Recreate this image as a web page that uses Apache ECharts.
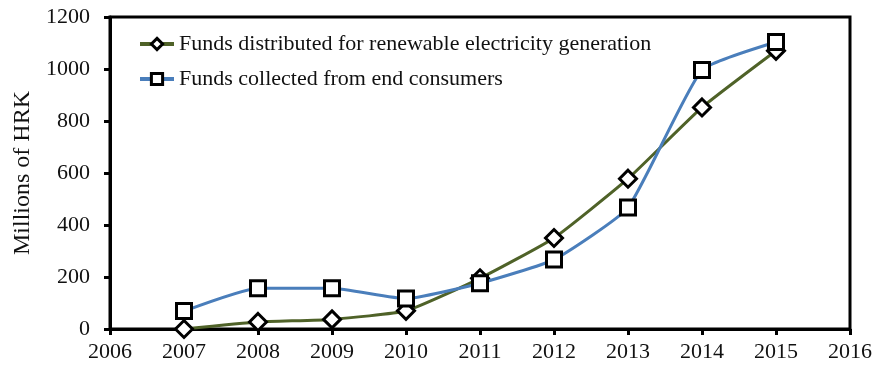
<!DOCTYPE html>
<html>
<head>
<meta charset="utf-8">
<script src="https://cdn.jsdelivr.net/npm/echarts@6/dist/echarts.min.js"></script>
<style>html,body{margin:0;padding:0;background:#fff}#c{width:876px;height:369px}</style>
</head>
<body>
<div id="c"></div>
<script>
const years = [2007, 2008, 2009, 2010, 2011, 2012, 2013, 2014, 2015];
const distributed = [0, 27, 37, 70, 195, 350, 578, 852, 1070];
const collected = [69, 157, 157, 117, 176, 267, 467, 996, 1104];
const seriesNames = ['Funds distributed for renewable electricity generation', 'Funds collected from end consumers'];
const yAxisName = 'Millions of HRK';

const font = 'Liberation Serif, Times New Roman, serif';
const chart = echarts.init(document.getElementById('c'));
chart.setOption({
  animation: false,
  textStyle: { fontFamily: font, color: '#000' },
  grid: { left: 110, right: 26, top: 17, bottom: 40, show: true, borderColor: '#000', borderWidth: 3,
          containLabel: false, outerBoundsMode: 'none' },
  legend: {
    orient: 'vertical', left: 133, top: 28, itemGap: 13, itemWidth: 34, itemHeight: 14,
    textStyle: { fontFamily: font, fontSize: 22, color: '#111' },
    lineStyle: { width: 4 },
    itemStyle: { borderWidth: 3 },
    data: seriesNames
  },
  xAxis: {
    type: 'value', min: 2006, max: 2016, interval: 1,
    axisLine: { lineStyle: { color: '#000', width: 3 } },
    axisTick: { show: true, length: 6, lineStyle: { color: '#000', width: 3 } },
    axisLabel: { fontFamily: font, fontSize: 22, color: '#111', margin: 12, formatter: v => String(v) },
    splitLine: { show: false }
  },
  yAxis: {
    type: 'value', min: 0, max: 1200, interval: 200,
    name: yAxisName, nameLocation: 'middle', nameGap: 73, nameRotate: 90,
    nameTextStyle: { fontFamily: font, fontSize: 24, color: '#111' },
    axisLine: { show: true, lineStyle: { color: '#000', width: 3 } },
    axisTick: { show: true, length: 6, lineStyle: { color: '#000', width: 3 } },
    axisLabel: { fontFamily: font, fontSize: 22, color: '#111', margin: 20, formatter: v => String(v) },
    splitLine: { show: false }
  },
  series: [
    {
      name: seriesNames[0], type: 'line', smooth: 0.15,
      data: years.map((y, i) => [y, distributed[i]]),
      lineStyle: { color: '#4F6228', width: 3 },
      symbol: 'diamond', symbolSize: 17,
      itemStyle: { color: '#fff', borderColor: '#000', borderWidth: 3 },
      z: 2
    },
    {
      name: seriesNames[1], type: 'line', smooth: 0.15,
      data: years.map((y, i) => [y, collected[i]]),
      lineStyle: { color: '#4A7EBB', width: 3 },
      symbol: 'rect', symbolSize: 15,
      itemStyle: { color: '#fff', borderColor: '#000', borderWidth: 3 },
      z: 3
    }
  ]
});
</script>
</body>
</html>
